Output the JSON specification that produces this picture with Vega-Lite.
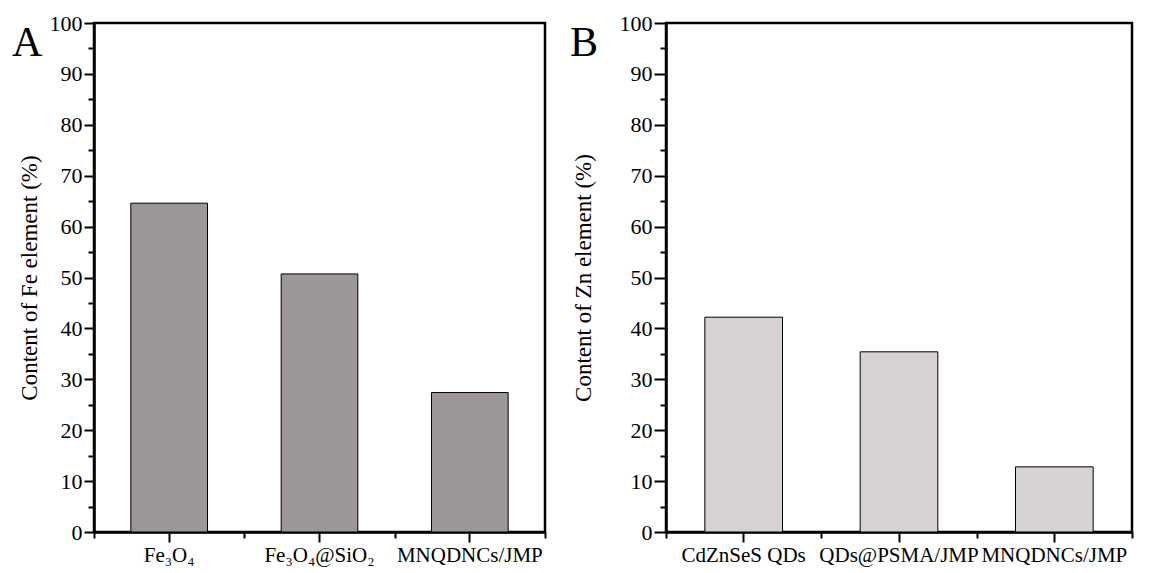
{
  "$schema": "https://vega.github.io/schema/vega-lite/v6.json",
  "padding": {"left": 10, "top": 10, "right": 5, "bottom": 0},
  "background": "white",
  "spacing": 20,
  "config": {
    "font": "Liberation Serif",
    "view": {"stroke": "black", "strokeWidth": 2.5},
    "axis": {"grid": false, "domainColor": "black", "tickColor": "black", "labelColor": "black", "titleColor": "black", "labelFont": "Liberation Serif", "titleFont": "Liberation Serif"}
  },
  "hconcat": [
    {
      "width": 451,
      "height": 509,
      "title": {"text": "A", "fontSize": 42, "fontWeight": "normal", "font": "Liberation Serif", "anchor": "start", "frame": "group", "dx": -82, "dy": 57, "color": "black"},
      "data": {"values": [
        {"sample": "Fe₃O₄", "value": 64.6},
        {"sample": "Fe₃O₄@SiO₂", "value": 50.7},
        {"sample": "MNQDNCs/JMP", "value": 27.4}
      ]},
      "layer": [
        {
          "mark": {"type": "bar", "fill": "#9c9698", "stroke": "black", "strokeWidth": 1, "width": {"band": 0.51}},
          "encoding": {
            "x": {"field": "sample", "type": "nominal", "sort": null, "scale": {"paddingInner": 0, "paddingOuter": 0},
              "axis": {"orient": "bottom", "title": null, "labelAngle": 0, "labelFontSize": 21, "labelPadding": 2, "tickSize": 10, "tickWidth": 2, "domainWidth": 2.5, "labelOverlap": false}},
            "y": {"field": "value", "type": "quantitative", "scale": {"domain": [0, 100], "nice": false},
              "axis": {"orient": "left", "title": "Content of Fe element (%)", "titleFontSize": 23, "titleFontWeight": "normal", "titlePadding": 8, "values": [0, 10, 20, 30, 40, 50, 60, 70, 80, 90, 100], "labelFontSize": 22, "labelPadding": 2, "tickSize": 10, "tickWidth": 2, "domainWidth": 2.5, "labelOverlap": false}}
          }
        },
        {
          "mark": {"type": "bar", "opacity": 0},
          "encoding": {
            "x": {"field": "sample", "type": "nominal", "sort": null,
              "axis": {"orient": "bottom", "title": null, "labels": false, "domain": false, "tickBand": "extent", "tickSize": 6, "tickWidth": 2}},
            "y": {"field": "value", "type": "quantitative",
              "axis": {"orient": "left", "title": null, "labels": false, "domain": false, "values": [5, 15, 25, 35, 45, 55, 65, 75, 85, 95], "tickSize": 6, "tickWidth": 2}}
          }
        }
      ],
      "resolve": {"axis": {"x": "independent", "y": "independent"}}
    },
    {
      "width": 466,
      "height": 509,
      "title": {"text": "B", "fontSize": 42, "fontWeight": "normal", "font": "Liberation Serif", "anchor": "start", "frame": "group", "dx": -96, "dy": 57, "color": "black"},
      "data": {"values": [
        {"sample": "CdZnSeS QDs", "value": 42.2},
        {"sample": "QDs@PSMA/JMP", "value": 35.4},
        {"sample": "MNQDNCs/JMP", "value": 12.8}
      ]},
      "layer": [
        {
          "mark": {"type": "bar", "fill": "#d6d1d3", "stroke": "black", "strokeWidth": 1, "width": {"band": 0.5}},
          "encoding": {
            "x": {"field": "sample", "type": "nominal", "sort": null, "scale": {"paddingInner": 0, "paddingOuter": 0},
              "axis": {"orient": "bottom", "title": null, "labelAngle": 0, "labelFontSize": 21, "labelPadding": 2, "tickSize": 10, "tickWidth": 2, "domainWidth": 2.5, "labelOverlap": false}},
            "y": {"field": "value", "type": "quantitative", "scale": {"domain": [0, 100], "nice": false},
              "axis": {"orient": "left", "title": "Content of Zn element (%)", "titleFontSize": 23, "titleFontWeight": "normal", "titlePadding": 24, "values": [0, 10, 20, 30, 40, 50, 60, 70, 80, 90, 100], "labelFontSize": 22, "labelPadding": 2, "tickSize": 12, "tickWidth": 2, "domainWidth": 2.5, "labelOverlap": false}}
          }
        },
        {
          "mark": {"type": "bar", "opacity": 0},
          "encoding": {
            "x": {"field": "sample", "type": "nominal", "sort": null,
              "axis": {"orient": "bottom", "title": null, "labels": false, "domain": false, "tickBand": "extent", "tickSize": 6, "tickWidth": 2}},
            "y": {"field": "value", "type": "quantitative",
              "axis": {"orient": "left", "title": null, "labels": false, "domain": false, "values": [5, 15, 25, 35, 45, 55, 65, 75, 85, 95], "tickSize": 6, "tickWidth": 2}}
          }
        }
      ],
      "resolve": {"axis": {"x": "independent", "y": "independent"}}
    }
  ]
}
